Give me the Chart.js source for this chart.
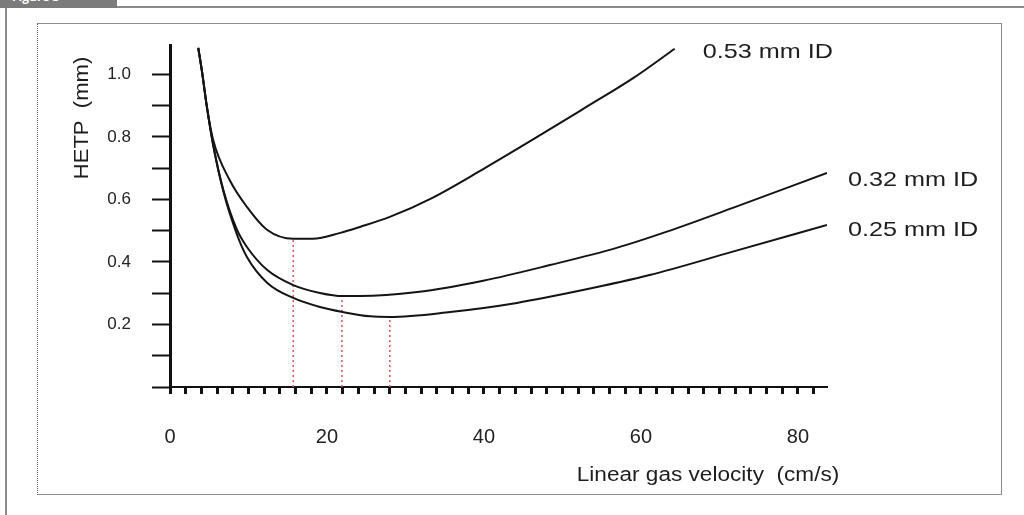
<!DOCTYPE html>
<html>
<head>
<meta charset="utf-8">
<script src="https://cdn.jsdelivr.net/npm/chart.js@4.4.1/dist/chart.umd.min.js"></script>
<style>
  html, body { margin: 0; padding: 0; background: #fff; }
  #page { position: relative; width: 1024px; height: 515px; overflow: hidden; background: #fff; }
  .tab { position: absolute; left: 0; top: -10px; width: 117px; height: 18px; background: #7b7b7b;
         border-top-right-radius: 6px; color: #fff; font: bold 12px "Open Sans", sans-serif; line-height: 14px; padding-left: 12px; box-sizing: border-box; }
  .frameTop { position: absolute; left: 0; top: 6px; width: 1024px; height: 2px; background: #8a8a8a; }
  .frameLeft { position: absolute; left: 5px; top: 6px; width: 2px; height: 509px; background: #8a8a8a; }
  .inner { position: absolute; left: 37px; top: 23px; width: 965px; height: 472px; box-sizing: border-box;
           border: 1px solid #8c8c8c; border-left: 1px dotted #666; }
  canvas { position: absolute; left: 0; top: 0; }
</style>
</head>
<body>
<div id="page">
  <div class="frameTop"></div>
  <div class="frameLeft"></div>
  <div class="tab">Figure 3</div>
  <div class="inner"></div>
  <canvas id="hetpChart" width="1024" height="515"></canvas>
</div>
<script>
// van Deemter curves (velocity in cm/s, HETP in mm)
const seriesNames = ['0.53 mm ID', '0.32 mm ID', '0.25 mm ID'];

const vel53 = [3.6, 4.1, 4.7, 5.5, 7.6, 9.8, 12.4, 15.7, 18.2, 21.7, 24.2, 28.0, 33.5, 39.9, 46.2, 52.6, 59.0, 64.3];
const hetp53 = [1.085, 1.005, 0.896, 0.790, 0.662, 0.576, 0.502, 0.474, 0.474, 0.493, 0.512, 0.544, 0.606, 0.697, 0.791, 0.889, 0.988, 1.082];

const vel32 = [3.6, 4.1, 4.7, 5.5, 6.8, 8.5, 9.8, 12.4, 15.7, 19.1, 22.0, 24.2, 31.5, 39.9, 48.4, 56.9, 63.3, 71.7, 83.7];
const hetp32 = [1.085, 1.005, 0.896, 0.774, 0.630, 0.505, 0.448, 0.374, 0.326, 0.301, 0.291, 0.291, 0.304, 0.340, 0.390, 0.445, 0.497, 0.573, 0.685];

const vel25 = [3.6, 4.1, 4.7, 5.5, 6.8, 8.5, 9.8, 12.4, 15.7, 19.1, 22.0, 25.5, 28.0, 35.7, 44.2, 52.6, 61.1, 71.7, 83.7];
const hetp25 = [1.085, 1.005, 0.896, 0.774, 0.625, 0.490, 0.416, 0.333, 0.285, 0.256, 0.240, 0.226, 0.224, 0.240, 0.269, 0.310, 0.358, 0.433, 0.518];

// optimum velocity markers (red dotted drop lines)
const optVel = [15.7, 21.9, 28.0];
const optHetp = [0.474, 0.291, 0.224];

const xMin = 0, xMax = 83.7, xStep = 2;
const yMin = 0, yMax = 1.094, yStep = 0.1;

function toPoints(xs, ys) {
    return xs.map((x, i) => ({ x: x, y: ys[i] }));
}

const curveStyle = {
    borderColor: '#141414',
    borderWidth: 2,
    pointRadius: 0,
    fill: false,
    cubicInterpolationMode: 'monotone'
};

const datasets = [
    Object.assign({ label: seriesNames[0], data: toPoints(vel53, hetp53) }, curveStyle),
    Object.assign({ label: seriesNames[1], data: toPoints(vel32, hetp32) }, curveStyle),
    Object.assign({ label: seriesNames[2], data: toPoints(vel25, hetp25) }, curveStyle)
];
optVel.forEach((v, i) => {
    datasets.push({
        label: 'opt' + i,
        data: [{ x: v, y: 0 }, { x: v, y: optHetp[i] }],
        borderColor: '#dc5c5c',
        borderWidth: 1.6,
        borderDash: [2, 3],
        pointRadius: 0,
        fill: false
    });
});

// text drawn a bit stretched sideways, like the scanned original
function wideText(ctx, text, x, y, sx, align) {
    ctx.save();
    ctx.translate(x, y);
    ctx.scale(sx, 1);
    ctx.textAlign = align;
    ctx.fillText(text, 0, 0);
    ctx.restore();
}

const textPlugin = {
    id: 'figureText',
    afterDraw: (chart) => {
        const ctx = chart.ctx;
        const offsets = [[28, 3], [21, 7], [21, 5]];
        ctx.save();
        ctx.fillStyle = '#1e1e1e';
        ctx.textBaseline = 'middle';
        ctx.font = '21px "Liberation Sans", Arial, sans-serif';
        for (let i = 0; i < 3; i++) {
            const pts = chart.getDatasetMeta(i).data;
            const last = pts[pts.length - 1];
            wideText(ctx, seriesNames[i], last.x + offsets[i][0], last.y + offsets[i][1], 1.2, 'left');
        }
        ctx.font = '20px "Liberation Sans", Arial, sans-serif';
        wideText(ctx, 'Linear gas velocity  (cm/s)', 708, 475, 1.13, 'center');
        ctx.translate(82, 118);
        ctx.rotate(-Math.PI / 2);
        ctx.font = '21px "Liberation Sans", Arial, sans-serif';
        wideText(ctx, 'HETP  (mm)', 0, 0, 1.05, 'center');
        ctx.restore();
    }
};

const ctx = document.getElementById('hetpChart').getContext('2d');
new Chart(ctx, {
    type: 'line',
    data: { datasets: datasets },
    options: {
        responsive: false,
        animation: false,
        layout: { padding: { left: 50, right: 197, top: 45, bottom: 48 } },
        plugins: {
            legend: { display: false },
            tooltip: { enabled: false }
        },
        scales: {
            x: {
                type: 'linear',
                min: xMin,
                max: xMax,
                afterFit: (s) => { s.height = 80; },
                border: { display: true, color: '#111', width: 2 },
                grid: { drawOnChartArea: false, drawTicks: true, tickLength: 7, tickWidth: 3, tickColor: '#111' },
                ticks: {
                    stepSize: xStep,
                    includeBounds: false,
                    autoSkip: false,
                    maxRotation: 0,
                    padding: 31,
                    color: '#222',
                    font: { family: '"Liberation Sans", Arial, sans-serif', size: 20 },
                    callback: (v) => (Math.round(v) % 20 === 0 ? String(Math.round(v)) : '')
                }
            },
            y: {
                type: 'linear',
                min: yMin,
                max: yMax,
                afterFit: (s) => { s.width = 120; },
                border: { display: true, color: '#111', width: 3 },
                grid: { drawOnChartArea: false, drawTicks: true, tickLength: 18, tickWidth: 2, tickColor: '#111' },
                ticks: {
                    stepSize: yStep,
                    includeBounds: false,
                    autoSkip: false,
                    padding: 21,
                    color: '#222',
                    font: { family: '"Liberation Sans", Arial, sans-serif', size: 17 },
                    callback: (v) => {
                        const t = Math.round(v * 10);
                        return (t > 0 && t % 2 === 0) ? (t / 10).toFixed(1) : '';
                    }
                }
            }
        }
    },
    plugins: [textPlugin]
});
</script>
</body>
</html>
